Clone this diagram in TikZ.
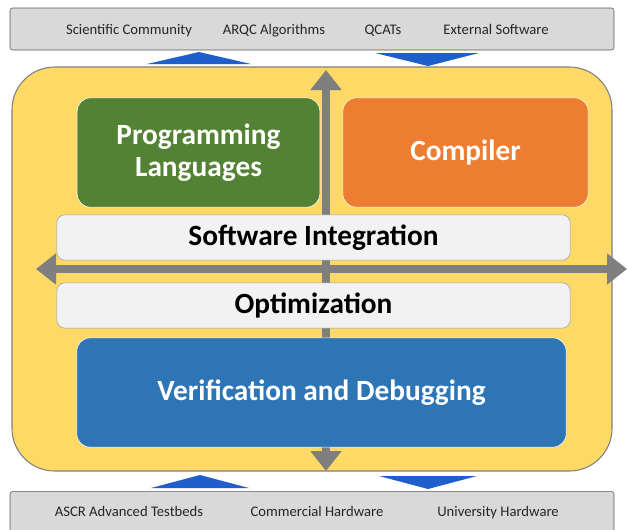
\documentclass[tikz,border=0pt]{standalone}
\usepackage{fontspec}
\setmainfont{Carlito}
\usetikzlibrary{arrows.meta}
\definecolor{cband}{HTML}{D9D9D9}
\definecolor{cyel}{HTML}{FFD966}
\definecolor{cgrn}{HTML}{548235}
\definecolor{corg}{HTML}{ED7D31}
\definecolor{cblu}{HTML}{2E75B6}
\definecolor{clgt}{HTML}{F2F2F2}
\definecolor{cedge}{HTML}{8FA3B8}
\definecolor{carr}{HTML}{7F7F7F}
\definecolor{ctri}{HTML}{1F5FCC}

\begin{document}
\begin{tikzpicture}[x=0.75pt, y=-0.75pt,
  band/.style={draw=black!65, fill=cband, rounded corners=2pt,
               minimum width=453pt, minimum height=31.5pt},
  lbl/.style={anchor=base, font=\fontsize{11}{13}\selectfont, text=black!85},
  big/.style={draw=white, text=white, rounded corners=10pt, align=center,
              minimum width=182pt, minimum height=82pt,
              font=\bfseries\fontsize{22}{24}\selectfont},
  bar/.style={draw=cedge, fill=clgt, rounded corners=6pt,
              minimum width=385pt, minimum height=34pt,
              font=\bfseries\fontsize{22}{24}\selectfont},
  axis/.style={draw=carr, line width=6pt,
               {Triangle[length=15pt,width=22.5pt]}-{Triangle[length=15pt,width=22.5pt]}},
  flow/.style={fill=ctri}]
  \clip (0,0) rectangle (627,529);

  % outer bands
  \node[band] (top) at (312,29) {};
  \node[band, minimum height=40pt] (bot) at (312,518) {};
  \node[lbl] (sci) at (129,34) {Scientific Community};
  \node[lbl] (arqc) at (274,34) {ARQC Algorithms};
  \node[lbl] (qcat) at (383,34) {QCATs};
  \node[lbl] (ext) at (496,34) {External Software};
  \node[lbl] (ascr) at (129,516) {ASCR Advanced Testbeds};
  \node[lbl] (comm) at (317,516) {Commercial Hardware};
  \node[lbl] (univ) at (498,516) {University Hardware};

  % exchange arrows
  \fill[flow] (147,64) -- (199,52) -- (251,64) -- cycle;
  \fill[flow] (375,53) -- (428,66) -- (479,53) -- cycle;
  \fill[flow] (151,488) -- (200,475) -- (249,488) -- cycle;
  \fill[flow] (379,476) -- (428,489) -- (477,476) -- cycle;

  % core
  \node[draw=carr, fill=cyel, line width=0.8pt, rounded corners=32pt,
        minimum width=450pt, minimum height=303pt] (core) at (312,269) {};
  \coordinate (vt) at (326,70);
  \coordinate (vb) at (326,471);
  \coordinate (hl) at (36,269);
  \coordinate (hr) at (627,269);
  \draw[axis] (vb) -- (vt);
  \draw[axis] (hl) -- (hr);

  \node[big, fill=cgrn] (lang) at (198.5,152.5) {Programming\\Languages};
  \node[big, fill=corg, minimum width=184pt] (comp) at (465.5,152.5) {Compiler};
  \node[bar] (integ) at (313.5,237.5) {Software Integration};
  \node[bar] (opt) at (313.5,305.5) {Optimization};
  \node[big, fill=cblu, minimum width=367pt] (verif) at (321.5,392.5) {Verification and Debugging};
\end{tikzpicture}
\end{document}
